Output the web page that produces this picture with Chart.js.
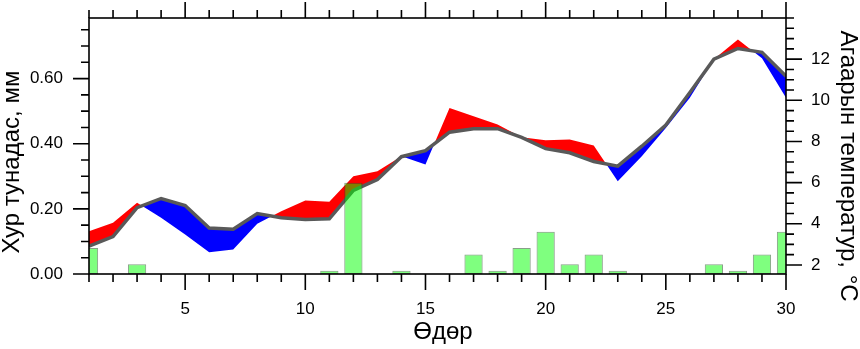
<!DOCTYPE html>
<html>
<head>
<meta charset="utf-8">
<script src="https://cdn.jsdelivr.net/npm/chart.js@4/dist/chart.umd.min.js"></script>
<style>
  html, body { margin: 0; padding: 0; background: #fff; }
</style>
</head>
<body>
<canvas id="chart" width="860" height="349"></canvas>
<script>
// Days of the month
const days = [1, 2, 3, 4, 5, 6, 7, 8, 9, 10, 11, 12, 13, 14, 15,
              16, 17, 18, 19, 20, 21, 22, 23, 24, 25, 26, 27, 28, 29, 30];

// Daily precipitation, mm
const precip = [0.08, 0, 0.03, 0, 0, 0, 0, 0, 0, 0, 0.01, 0.28, 0, 0.01, 0,
                0, 0.06, 0.01, 0.08, 0.13, 0.03, 0.06, 0.01, 0, 0, 0, 0.03, 0.01, 0.06, 0.13];

// Air temperature, long-term mean (grey line), °C
const tempNorm = [2.91, 3.38, 4.78, 5.23, 4.89, 3.79, 3.74, 4.5, 4.29, 4.21, 4.24, 5.62, 6.15, 7.26, 7.55,
                  8.45, 8.62, 8.62, 8.2, 7.65, 7.45, 7.03, 6.8, 7.77, 8.8, 10.38, 12.0, 12.52, 12.33, 11.17];

// Air temperature, observed, °C
const tempActual = [3.64, 4.05, 5.02, 4.29, 3.48, 2.62, 2.75, 4.0, 4.61, 5.13, 5.07, 6.31, 6.55, 7.28, 6.88,
                    9.63, 9.22, 8.82, 8.2, 8.06, 8.09, 7.8, 6.07, 7.28, 8.66, 10.12, 12.0, 12.95, 12.05, 10.12];

// Labelled (major) ticks
const dayTicks = [5, 10, 15, 20, 25, 30];
const precipTicks = [0, 0.2, 0.4, 0.6];
const tempTicks = [2, 4, 6, 8, 10, 12];

const tickFont = { family: '"Liberation Sans", Arial, Helvetica, sans-serif', size: 17 };
const titleFont = '24px "Liberation Sans", Arial, Helvetica, sans-serif';

// keep the plot box fixed: no extra room for edge labels
const noEdgePadding = s => {
  s.paddingTop = 0;
  s.paddingBottom = 0;
  s.paddingLeft = 0;
  s.paddingRight = 0;
};

// frame, outward tick marks on all four sides, axis titles
const frameAndTitles = {
  id: 'frameAndTitles',
  afterDraw(chart) {
    const { ctx, chartArea: a, scales } = chart;
    const near = (v, list) => list.some(t => Math.abs(t - v) < 1e-6);
    ctx.save();
    ctx.strokeStyle = '#000';
    ctx.lineWidth = 1.6;
    ctx.beginPath();

    for (let d = 1; d <= 30; d++) {
      const px = scales.x.getPixelForValue(d);
      const len = near(d, dayTicks) ? 16 : 8;
      ctx.moveTo(px, a.bottom); ctx.lineTo(px, a.bottom + len);
      ctx.moveTo(px, a.top); ctx.lineTo(px, a.top - len);
    }
    for (let i = 0; i * 0.05 <= scales.yP.max; i++) {
      const v = Math.round(i * 5) / 100;
      const py = scales.yP.getPixelForValue(v);
      const len = near(v, precipTicks) ? 16 : 8;
      ctx.moveTo(a.left, py); ctx.lineTo(a.left - len, py);
    }
    for (let t = 2; t <= scales.yT.max; t += 0.5) {
      const py = scales.yT.getPixelForValue(t);
      const len = near(t, tempTicks) ? 16 : 8;
      ctx.moveTo(a.right, py); ctx.lineTo(a.right + len, py);
    }
    ctx.stroke();
    ctx.strokeRect(a.left, a.top, a.right - a.left, a.bottom - a.top);

    ctx.fillStyle = '#000';
    ctx.font = titleFont;
    ctx.textAlign = 'center';
    ctx.textBaseline = 'alphabetic';
    ctx.fillText('Өдөр', 443, 339);

    ctx.save();
    ctx.translate(19, 162);
    ctx.rotate(-Math.PI / 2);
    ctx.fillText('Хур тунадас, мм', 0, 0);
    ctx.restore();

    ctx.save();
    ctx.translate(841, 166);
    ctx.rotate(Math.PI / 2);
    ctx.fillText('Агаарын температур, °C', 0, 0);
    ctx.restore();

    ctx.restore();
  }
};

new Chart(document.getElementById('chart'), {
  type: 'line',
  data: {
    datasets: [
      {
        type: 'bar',
        yAxisID: 'yP',
        data: days.map((d, i) => ({ x: d, y: precip[i] })),
        backgroundColor: 'rgba(0, 255, 0, 0.5)',
        borderColor: 'rgba(40, 80, 40, 0.55)',
        borderWidth: 1,
        borderSkipped: false,
        barPercentage: 0.76,
        categoryPercentage: 1
      },
      {
        yAxisID: 'yT',
        data: days.map((d, i) => ({ x: d, y: tempNorm[i] })),
        borderColor: '#595959',
        borderWidth: 3.5,
        pointRadius: 0,
        tension: 0,
        fill: false
      },
      {
        yAxisID: 'yT',
        data: days.map((d, i) => ({ x: d, y: tempActual[i] })),
        borderWidth: 0,
        borderColor: 'rgba(0,0,0,0)',
        pointRadius: 0,
        tension: 0,
        fill: { target: 1, above: 'rgb(255, 0, 0)', below: 'rgb(0, 0, 255)' }
      }
    ]
  },
  options: {
    responsive: false,
    animation: false,
    devicePixelRatio: 1,
    layout: { padding: { top: 18, left: 0, right: 0, bottom: 0 } },
    plugins: { legend: { display: false }, tooltip: { enabled: false } },
    scales: {
      x: {
        type: 'linear',
        min: 1,
        max: 30,
        offset: false,
        grid: { display: false, drawTicks: false },
        border: { display: false },
        ticks: { font: tickFont, color: '#000', padding: 25, maxRotation: 0, autoSkip: false },
        afterBuildTicks: s => { s.ticks = dayTicks.map(v => ({ value: v })); },
        afterFit: s => { s.height = 75; noEdgePadding(s); }
      },
      yP: {
        type: 'linear',
        position: 'left',
        min: 0,
        max: 0.786,
        grid: { display: false, drawTicks: false },
        border: { display: false },
        ticks: { font: tickFont, color: '#000', padding: 26, callback: v => v.toFixed(2) },
        afterBuildTicks: s => { s.ticks = precipTicks.map(v => ({ value: v })); },
        afterFit: s => { s.width = 89; noEdgePadding(s); }
      },
      yT: {
        type: 'linear',
        position: 'right',
        min: 1.56,
        max: 14.0,
        grid: { display: false, drawTicks: false },
        border: { display: false },
        ticks: { font: tickFont, color: '#000', padding: 25 },
        afterBuildTicks: s => { s.ticks = tempTicks.map(v => ({ value: v })); },
        afterFit: s => { s.width = 74; noEdgePadding(s); }
      }
    }
  },
  plugins: [frameAndTitles]
});
</script>
</body>
</html>
